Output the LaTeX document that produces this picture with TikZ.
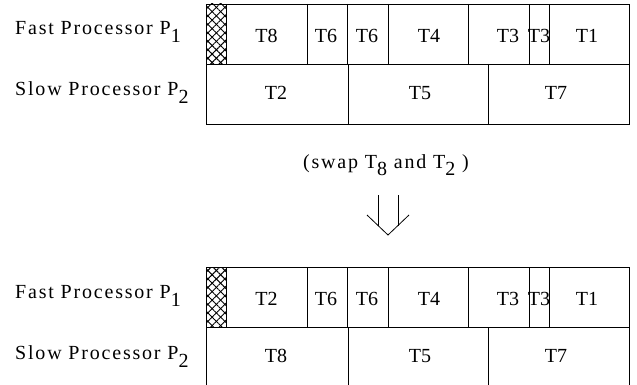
\documentclass[tikz,border=0pt]{standalone}
\usepackage{fontspec}
\setmainfont{Liberation Serif}
\newfontfamily\spaced[LetterSpace=9]{Liberation Serif}
\usetikzlibrary{patterns.meta}
\tikzset{
  cell/.style={draw, line width=0.9pt},
  task/.style={font=\fontsize{20}{20}\selectfont, inner sep=0pt},
  proc/.style={font=\spaced\fontsize{20}{20}\selectfont, anchor=base west, inner sep=0pt},
}
\newcommand{\lowsub}[1]{\raisebox{-8pt}{#1}}

\begin{document}
\begin{tikzpicture}[x=1pt, y=-1pt]
  \useasboundingbox (0,0) rectangle (637,385);
  \clip (0,0) rectangle (637,385);
  % two schedules, before and after the swap
  \foreach \off/\a/\b/\n in {0/8/2/top, 263/2/8/bot} {
    \begin{scope}[yshift=-\off pt]
      \fill[pattern={Lines[angle=45, distance=6pt, line width=1pt]}] (206.5,4) rectangle (226.5,64);
      \fill[pattern={Lines[angle=-45, distance=6pt, line width=1pt]}] (206.5,4) rectangle (226.5,64);
      \draw[cell] (206.5,4) rectangle (629,124);
      \draw[cell] (206.5,64) -- (629,64);
      \foreach \x in {226.5, 307, 347.5, 388, 468, 529, 549}
        \draw[cell] (\x,4) -- (\x,64);
      \foreach \x in {348, 488}
        \draw[cell] (\x,64) -- (\x,124);
      \node[proc] (\n-fast) at (15,35) {Fast Processor P\lowsub{1}};
      \node[proc] (\n-slow) at (15,96) {Slow Processor P\lowsub{2}};
      % fast processor
      \node[task] (\n-a)  at (266.5,36) {T\a};
      \node[task] (\n-t6) at (326,36) {T6};
      \node[task] (\n-u6) at (367,36) {T6};
      \node[task] (\n-t4) at (429,36) {T4};
      \node[task] (\n-t3) at (508,36) {T3};
      \node[task] (\n-u3) at (539,36) {T3};
      \node[task] (\n-t1) at (587,36) {T1};
      % slow processor
      \node[task] (\n-b)  at (276,93) {T\b};
      \node[task] (\n-t5) at (420,93) {T5};
      \node[task] (\n-t7) at (556,93) {T7};
    \end{scope}
  }
  \node[proc, anchor=base] (swap) at (386,168)
    {(swap T{\raisebox{-7pt}{8}} and T{\raisebox{-7pt}{2}} )};
  \draw[line width=0.8pt] (367,215) -- (388,235) -- (409,215);
  \draw[line width=0.8pt] (378,195) -- (378,225.5);
  \draw[line width=0.8pt] (398,195) -- (398,225.5);
\end{tikzpicture}
\end{document}
